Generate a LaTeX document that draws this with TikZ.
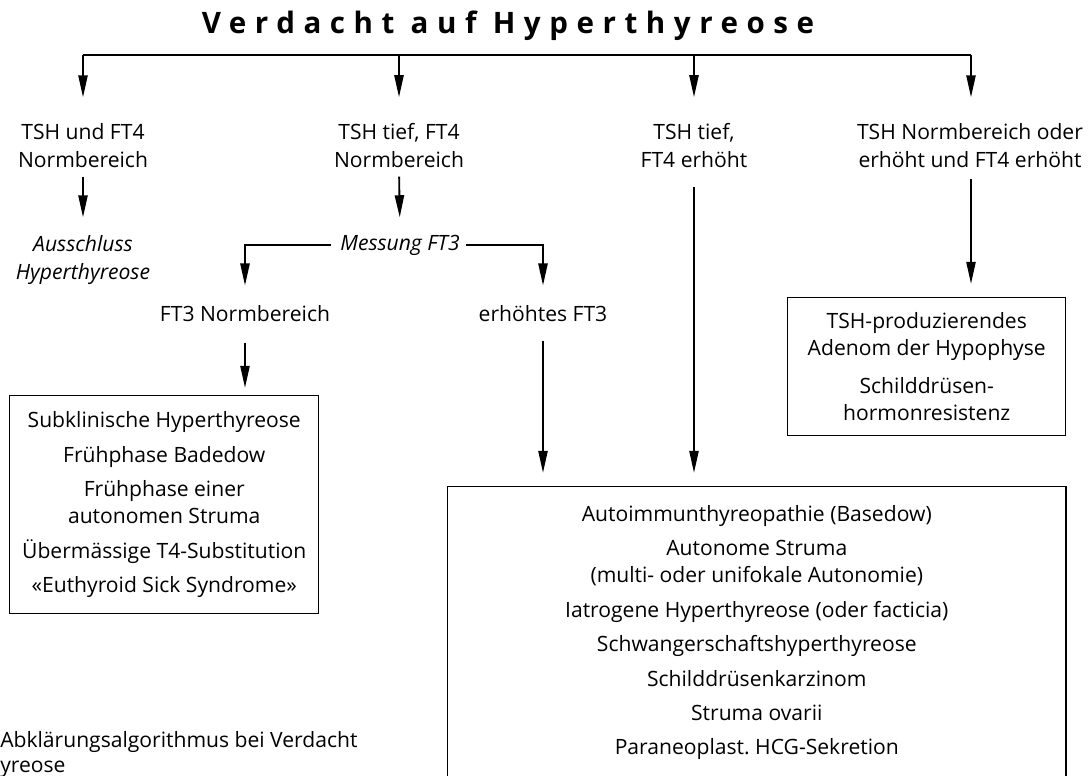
\documentclass[tikz,border=0pt]{standalone}
\usepackage{fontspec}
\setmainfont{Open Sans}
\newfontfamily\titlefont[LetterSpace=29]{Open Sans}
\usetikzlibrary{arrows.meta}

\tikzset{
  lab/.style={inner sep=0pt,align=center,font=\fontsize{15}{19.5}\selectfont},
  res/.style={draw,line width=1pt,inner sep=0pt,align=center,anchor=north west,font=\fontsize{15}{19}\selectfont},
  arr/.style={line width=1.3pt,-{Triangle[length=5.5mm,width=2.3mm]}},
}

\begin{document}
\begin{tikzpicture}[x=0.025cm,y=-0.025cm]
\useasboundingbox (0,0) rectangle (1088,776);
\node[anchor=base,inner sep=0pt,font=\titlefont\bfseries\fontsize{21}{25}\selectfont] (title) at (508,33) {Verdacht auf Hyperthyreose};
\coordinate (b1) at (83,55);
\coordinate (b2) at (399,55);
\coordinate (b3) at (694,55);
\coordinate (b4) at (971,55);
\node[lab,anchor=base] (lab1) at (83,167) {TSH und FT4\\Normbereich};
\node[lab,anchor=base] (lab2) at (399,167) {TSH tief, FT4\\Normbereich};
\node[lab,anchor=base] (lab3) at (694,167) {TSH tief,\\FT4 erhöht};
\node[lab,anchor=base] (lab4) at (970,167) {TSH Normbereich oder\\erhöht und FT4 erhöht};
\node[lab,anchor=base,font=\fontsize{15}{19.5}\selectfont\itshape] (aus) at (83,279) {Ausschluss\\Hyperthyreose};
\node[lab,anchor=base,font=\fontsize{15}{19.5}\selectfont\itshape] (mess) at (400,250) {Messung FT3};
\node[lab,anchor=base] (ft3n) at (245,321) {FT3 Normbereich};
\node[lab,anchor=base] (ft3h) at (543,321) {erhöhtes FT3};
\node[res,minimum width=7.725cm,minimum height=5.45cm] (lbox) at (9,395) {Subklinische Hyperthyreose\\[5.5pt]
  Frühphase Badedow\\[5.5pt]
  Frühphase einer\\
  autonomen Struma\\[5.5pt]
  Übermässige T4-Substitution\\[5.5pt]
  «Euthyroid Sick Syndrome»};
\node[res,minimum width=6.95cm,minimum height=3.45cm] (rbox) at (787,297) {TSH-produzierendes\\
  Adenom der Hypophyse\\[8pt]
  Schilddrüsen-\\
  hormonresistenz};
\node[res,minimum width=15.45cm,minimum height=7.3cm] (bbox) at (447,486) {Autoimmunthyreopathie (Basedow)\\[5.5pt]
  Autonome Struma\\
  (multi- oder unifokale Autonomie)\\[5.5pt]
  Iatrogene Hyperthyreose (oder facticia)\\[5.5pt]
  Schwangerschaftshyperthyreose\\[5.5pt]
  Schilddrüsenkarzinom\\[5.5pt]
  Struma ovarii\\[5.5pt]
  Paraneoplast.\ HCG-Sekretion};
\node[lab,anchor=base west] (cap1) at (0,747) {Abklärungsalgorithmus bei Verdacht};
\node[lab,anchor=base west] (cap2) at (0,772) {yreose};

\draw[line width=1.4pt] (b1) -- (b4);
\draw[arr,shorten >=0.65cm] (b1) -- (lab1.north);
\draw[arr,shorten >=0.65cm] (b2) -- (lab2.north);
\draw[arr,shorten >=0.65cm] (b3) -- (lab3.north);
\draw[arr,shorten >=0.65cm] (b4) -- (b4 |- lab4.north);
\draw[arr,shorten <=0.23cm,shorten >=0.45cm] (lab1.south) -- (aus.north);
\draw[arr,shorten <=0.23cm,shorten >=0.43cm] (lab2.south) -- (mess.north);
\draw[arr,shorten <=0.22cm,shorten >=0.48cm] (mess.west) -| (ft3n.north);
\draw[arr,shorten <=0.15cm,shorten >=0.48cm] (mess.east) -| (ft3h.north);
\draw[arr,shorten <=0.53cm,shorten >=0.18cm] (ft3n.south) -- (lbox.north -| ft3n.south);
\draw[arr,shorten <=0.48cm,shorten >=0.33cm] (ft3h.south) -- (bbox.north -| ft3h.south);
\draw[arr,shorten <=0.5cm,shorten >=0.33cm] (lab3.south) -- (bbox.north -| lab3.south);
\draw[arr,shorten <=0.3cm,shorten >=0.33cm] (b4 |- lab4.south) -- (b4 |- rbox.north);
\end{tikzpicture}
\end{document}
